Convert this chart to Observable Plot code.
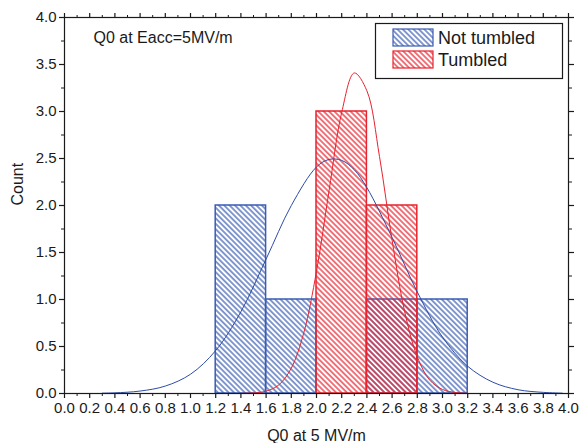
<!DOCTYPE html>
<html>
<head>
<meta charset="utf-8">
<script src="https://cdn.jsdelivr.net/npm/d3@7"></script>
<script src="https://cdn.jsdelivr.net/npm/@observablehq/plot@0.6"></script>
<style>
  html, body { margin: 0; padding: 0; background: #fff; }
  svg { display: block; }
</style>
</head>
<body>
<div id="chart"></div>
<script>
// ---- data ----
const seriesNames = ["Not tumbled", "Tumbled"];

// histogram bins (Q0 in 1e10 units) and counts
const notTumbledBinStart = [1.2, 1.6, 2.4, 2.8];
const notTumbledBinEnd   = [1.6, 2.0, 2.8, 3.2];
const notTumbledCount    = [2, 1, 1, 1];

const tumbledBinStart = [2.0, 2.4];
const tumbledBinEnd   = [2.4, 2.8];
const tumbledCount    = [3, 2];

// fitted distribution curves
const notTumbledCurveX = [0.3, 0.4, 0.6, 0.8, 1.0, 1.2, 1.4, 1.6, 1.8, 2.0, 2.1, 2.2, 2.3, 2.4, 2.6, 2.8, 3.0, 3.2, 3.4, 3.6, 3.8, 3.95];
const notTumbledCurveY = [0.004, 0.007, 0.026, 0.079, 0.205, 0.457, 0.87, 1.43, 2.0, 2.41, 2.49, 2.48, 2.38, 2.19, 1.66, 1.08, 0.60, 0.29, 0.12, 0.04, 0.012, 0.004];

const tumbledCurveX = [1.4, 1.5, 1.6, 1.7, 1.8, 1.9, 2.0, 2.1, 2.2, 2.3, 2.4, 2.5, 2.6, 2.7, 2.8, 2.9, 3.0, 3.1, 3.2];
const tumbledCurveY = [0.001, 0.006, 0.025, 0.09, 0.27, 0.65, 1.30, 2.16, 2.99, 3.41, 3.22, 2.52, 1.63, 0.87, 0.39, 0.14, 0.043, 0.011, 0.002];

// axis ticks
const xTicks = [0.0, 0.2, 0.4, 0.6, 0.8, 1.0, 1.2, 1.4, 1.6, 1.8, 2.0, 2.2, 2.4, 2.6, 2.8, 3.0, 3.2, 3.4, 3.6, 3.8, 4.0];
const xMinorTicks = [0.1, 0.3, 0.5, 0.7, 0.9, 1.1, 1.3, 1.5, 1.7, 1.9, 2.1, 2.3, 2.5, 2.7, 2.9, 3.1, 3.3, 3.5, 3.7, 3.9];
const yTicks = [0.0, 0.5, 1.0, 1.5, 2.0, 2.5, 3.0, 3.5, 4.0];
const yMinorTicks = [0.25, 0.75, 1.25, 1.75, 2.25, 2.75, 3.25, 3.75];

const xLabel = "Q0 at 5 MV/m";
const yLabel = "Count";
const annotation = "Q0 at Eacc=5MV/m";

// ---- tables built from the arrays ----
const notTumbledBins = notTumbledCount.map((c, i) => ({x1: notTumbledBinStart[i], x2: notTumbledBinEnd[i], y: c}));
const tumbledBins = tumbledCount.map((c, i) => ({x1: tumbledBinStart[i], x2: tumbledBinEnd[i], y: c}));
const notTumbledCurve = notTumbledCurveX.map((x, i) => ({x, y: notTumbledCurveY[i]}));
const tumbledCurve = tumbledCurveX.map((x, i) => ({x, y: tumbledCurveY[i]}));

const BLUE = "#3a5cb2";
const BLUE_CURVE = "#2d4ca6";
const RED = "#e8232e";
const INK = "#1a1a1a";
const fmt = d => d.toFixed(1);
const blank = () => "";

const plot = Plot.plot({
  width: 581,
  height: 443,
  marginLeft: 64,
  marginRight: 13,
  marginTop: 17,
  marginBottom: 50,
  style: {fontFamily: "'Liberation Sans', Arial, sans-serif", fontSize: "15px", color: INK, background: "#fff"},
  x: {domain: [0, 4], label: null},
  y: {domain: [0, 4], label: null},
  marks: [
    Plot.rectY(notTumbledBins, {x1: "x1", x2: "x2", y: "y", fill: "url(#hatchBlue)", stroke: BLUE, strokeWidth: 1.5}),
    Plot.rectY(tumbledBins, {x1: "x1", x2: "x2", y: "y", fill: "url(#hatchRed)", stroke: RED, strokeWidth: 1.5}),
    Plot.line(notTumbledCurve, {x: "x", y: "y", stroke: BLUE_CURVE, strokeWidth: 1, curve: "catmull-rom"}),
    Plot.line(tumbledCurve, {x: "x", y: "y", stroke: RED, strokeWidth: 1, curve: "catmull-rom"}),
    Plot.frame({stroke: INK, strokeWidth: 1.2}),
    // bottom axis
    Plot.axisX({ticks: xTicks, tickFormat: fmt, tickSize: 5, tickPadding: 4, label: null, fontSize: 15, strokeWidth: 1.2}),
    Plot.axisX({ticks: xMinorTicks, tickFormat: blank, tickSize: 3, label: null, strokeWidth: 1}),
    // top axis
    Plot.axisX({anchor: "top", ticks: xTicks, tickFormat: blank, tickSize: 5, label: null, strokeWidth: 1.2}),
    Plot.axisX({anchor: "top", ticks: xMinorTicks, tickFormat: blank, tickSize: 3, label: null, strokeWidth: 1}),
    // left axis
    Plot.axisY({ticks: yTicks, tickFormat: fmt, tickSize: 5, tickPadding: 3, label: null, fontSize: 15, strokeWidth: 1.2}),
    Plot.axisY({ticks: yMinorTicks, tickFormat: blank, tickSize: 3, label: null, strokeWidth: 1}),
    // right axis
    Plot.axisY({anchor: "right", ticks: yTicks, tickFormat: blank, tickSize: 5, label: null, strokeWidth: 1.2}),
    Plot.axisY({anchor: "right", ticks: yMinorTicks, tickFormat: blank, tickSize: 3, label: null, strokeWidth: 1}),
    // titles
    Plot.text([xLabel], {frameAnchor: "bottom", dy: 47, fontSize: 16, fill: INK}),
    Plot.text([yLabel], {frameAnchor: "left", dx: -47, rotate: -90, fontSize: 16, fill: INK}),
    Plot.text([annotation], {frameAnchor: "top-left", dx: 29, dy: 14, textAnchor: "start", fontSize: 16, fill: INK})
  ]
});

document.getElementById("chart").appendChild(plot);

// hatch patterns
const svg = d3.select(plot);
const defs = svg.insert("defs", ":first-child");
function hatch(id, color, w) {
  const p = defs.append("pattern")
    .attr("id", id)
    .attr("patternUnits", "userSpaceOnUse")
    .attr("width", 8).attr("height", 3.8)
    .attr("patternTransform", "rotate(45)");
  p.append("line")
    .attr("x1", 0).attr("y1", 1.9).attr("x2", 8).attr("y2", 1.9)
    .attr("stroke", color).attr("stroke-width", w);
}
hatch("hatchBlue", BLUE, 1.25);
hatch("hatchRed", RED, 1.25);

// legend
const lg = svg.append("g")
  .attr("font-family", "'Liberation Sans', Arial, sans-serif")
  .attr("text-anchor", "start");
lg.append("rect").attr("x", 375.5).attr("y", 23.5).attr("width", 187).attr("height", 55)
  .attr("fill", "#fff").attr("stroke", INK).attr("stroke-width", 1.2);
const legendItems = [
  {name: seriesNames[0], fill: "url(#hatchBlue)", stroke: BLUE},
  {name: seriesNames[1], fill: "url(#hatchRed)", stroke: RED}
];
legendItems.forEach((it, i) => {
  const y0 = 29 + i * 22;
  lg.append("rect").attr("x", 393).attr("y", y0).attr("width", 40).attr("height", 17)
    .attr("fill", it.fill).attr("stroke", it.stroke).attr("stroke-width", 1.2);
  lg.append("text").attr("x", 438).attr("y", y0 + 15).attr("font-size", 18)
    .attr("text-anchor", "start").attr("fill", INK).text(it.name);
});
</script>
</body>
</html>
